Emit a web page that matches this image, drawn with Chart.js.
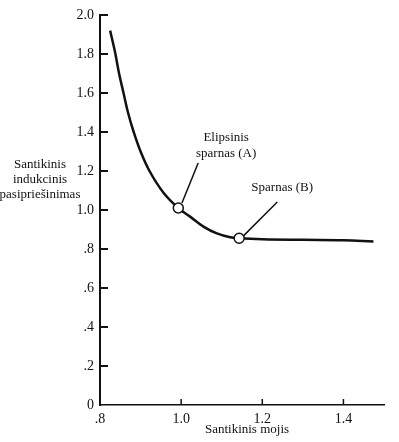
<!DOCTYPE html>
<html>
<head>
<meta charset="UTF-8">
<script src="https://cdn.jsdelivr.net/npm/chart.js"></script>
<style>
  body { margin: 0; background: #fff; }
  canvas { display: block; }
</style>
</head>
<body>
<canvas id="chart" width="399" height="442"></canvas>
<script>
// curve
const curveX = [0.825, 0.837, 0.847, 0.858, 0.869, 0.883, 0.900, 0.922, 0.956, 0.993, 1.022, 1.055, 1.088, 1.121, 1.143, 1.2, 1.3, 1.4, 1.474];
const curveY = [1.92, 1.81, 1.70, 1.60, 1.50, 1.40, 1.30, 1.20, 1.09, 1.01, 0.966, 0.915, 0.880, 0.860, 0.855, 0.850, 0.847, 0.845, 0.838];

// marked wings (A) and (B)
const markX = [0.993, 1.143];
const markY = [1.01, 0.855];

// leader lines from the marks to the labels
const leaderAX = [1.002, 1.042];
const leaderAY = [1.036, 1.241];
const leaderBX = [1.153, 1.237];
const leaderBY = [0.866, 1.041];

// label text and where it sits (data units)
const labelA = ["Elipsinis", "sparnas (A)"];
const labelAPos = [1.111, 1.328];
const labelB = ["Sparnas (B)"];
const labelBPos = [1.249, 1.113];

const xTickVals = [0.8, 1.0, 1.2, 1.4];
const xTickLabels = [".8", "1.0", "1.2", "1.4"];
const yTickVals = [0, 0.2, 0.4, 0.6, 0.8, 1.0, 1.2, 1.4, 1.6, 1.8, 2.0];
const yTickLabels = ["0", ".2", ".4", ".6", ".8", "1.0", "1.2", "1.4", "1.6", "1.8", "2.0"];

const yTitle = ["Santikinis", "indukcinis", "pasipriešinimas"];
const xTitle = "Santikinis mojis";

const serif = "'Liberation Serif', 'DejaVu Serif', serif";
const ink = "#111";

const zip = (xs, ys) => xs.map((x, i) => ({ x: x, y: ys[i] }));

// ticks point inward, plus the free text
const extras = {
  id: "extras",
  afterDraw(chart) {
    const ctx = chart.ctx;
    const xs = chart.scales.x, ys = chart.scales.y;
    const area = chart.chartArea;
    ctx.save();
    ctx.strokeStyle = ink;
    ctx.lineWidth = 2;
    ys.ticks.forEach(t => {
      if (t.value === 0) return;
      const py = ys.getPixelForValue(t.value);
      ctx.beginPath();
      ctx.moveTo(area.left, py);
      ctx.lineTo(area.left + 8, py);
      ctx.stroke();
    });
    ctx.lineWidth = 1.5;
    xs.ticks.forEach(t => {
      if (t.value === 0.8) return;
      const px = xs.getPixelForValue(t.value);
      ctx.beginPath();
      ctx.moveTo(px, area.bottom);
      ctx.lineTo(px, area.bottom - 6);
      ctx.stroke();
    });

    ctx.fillStyle = ink;
    ctx.font = "13px " + serif;
    ctx.textAlign = "center";
    ctx.textBaseline = "middle";
    yTitle.forEach((s, i) => ctx.fillText(s, 40, 165 + i * 15));
    ctx.fillText(xTitle, (area.left + area.right) / 2 + 5, 430);

    const ax = xs.getPixelForValue(labelAPos[0]);
    const ay = ys.getPixelForValue(labelAPos[1]);
    labelA.forEach((s, i) => ctx.fillText(s, ax, ay - 8 + i * 16));
    const bx = xs.getPixelForValue(labelBPos[0]);
    const by = ys.getPixelForValue(labelBPos[1]);
    labelB.forEach(s => ctx.fillText(s, bx, by));
    ctx.restore();
  }
};

new Chart(document.getElementById("chart"), {
  type: "scatter",
  data: {
    datasets: [
      {
        data: zip(markX, markY),
        pointRadius: 5,
        pointBackgroundColor: "#fff",
        pointBorderColor: ink,
        pointBorderWidth: 1.5,
        showLine: false
      },
      {
        data: zip(leaderAX, leaderAY),
        showLine: true,
        borderColor: ink,
        borderWidth: 1.5,
        pointRadius: 0
      },
      {
        data: zip(leaderBX, leaderBY),
        showLine: true,
        borderColor: ink,
        borderWidth: 1.5,
        pointRadius: 0
      },
      {
        data: zip(curveX, curveY),
        showLine: true,
        borderColor: ink,
        borderWidth: 2.5,
        tension: 0.4,
        pointRadius: 0
      }
    ]
  },
  options: {
    responsive: false,
    animation: false,
    devicePixelRatio: 1,
    layout: { padding: { left: 0, top: 15, right: 15, bottom: 0 } },
    plugins: {
      legend: { display: false },
      tooltip: { enabled: false }
    },
    scales: {
      x: {
        type: "linear",
        min: 0.8,
        max: 1.5,
        afterFit: s => { s.height = 37; },
        afterBuildTicks: s => { s.ticks = xTickVals.map(v => ({ value: v })); },
        grid: { display: false, drawTicks: false },
        border: { display: true, color: ink, width: 1.5 },
        ticks: {
          padding: 6,
          color: ink,
          font: { family: serif, size: 14 },
          callback: (v, i) => xTickLabels[i]
        }
      },
      y: {
        type: "linear",
        min: 0,
        max: 2.0,
        afterFit: s => { s.width = 100; },
        afterBuildTicks: s => { s.ticks = yTickVals.map(v => ({ value: v })); },
        grid: { display: false, drawTicks: false },
        border: { display: true, color: ink, width: 2 },
        ticks: {
          padding: 6,
          color: ink,
          font: { family: serif, size: 14 },
          callback: (v, i) => yTickLabels[i]
        }
      }
    }
  },
  plugins: [extras]
});
</script>
</body>
</html>
